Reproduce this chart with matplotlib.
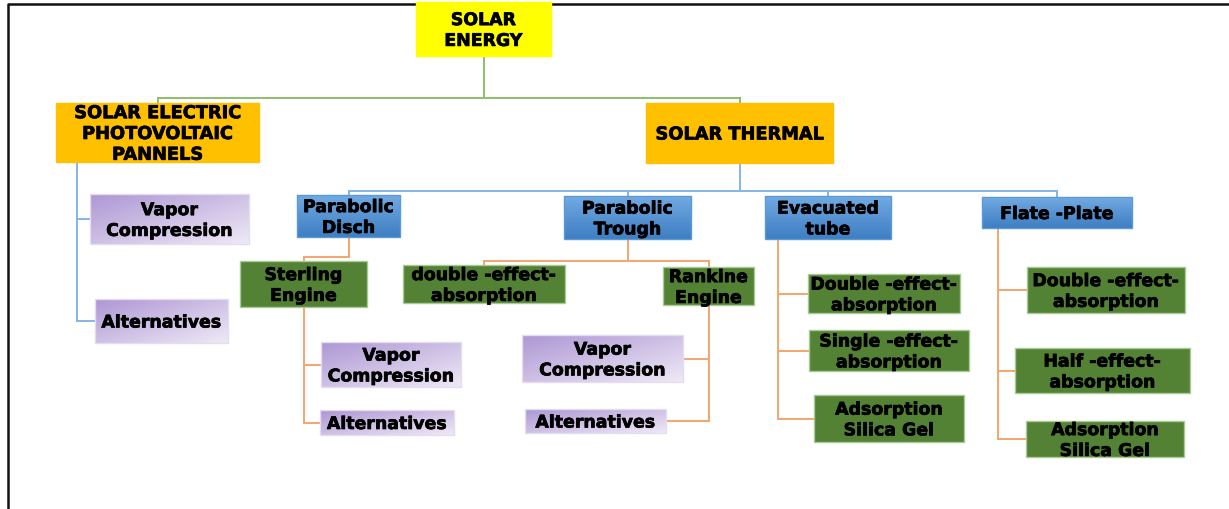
import matplotlib

matplotlib.use("Agg")
import matplotlib.pyplot as plt
import matplotlib.patheffects as pe
import numpy as np
from matplotlib.colors import LinearSegmentedColormap
from matplotlib.patches import Rectangle

# labels of the tree, level by level
root_label = "SOLAR\nENERGY"
main_labels = ["SOLAR ELECTRIC\nPHOTOVOLTAIC\nPANNELS", "SOLAR THERMAL"]
pv_labels = ["Vapor\nCompression", "Alternatives"]
thermal_labels = ["Parabolic\nDisch", "Parabolic\nTrough", "Evacuated\ntube", "Flate -Plate"]
disch_labels = ["Sterling\nEngine"]
sterling_labels = ["Vapor\nCompression", "Alternatives"]
trough_labels = ["double -effect-\nabsorption", "Rankine\nEngine"]
rankine_labels = ["Vapor\nCompression", "Alternatives"]
evacuated_labels = ["Double -effect-\nabsorption", "Single -effect-\nabsorption", "Adsorption\nSilica Gel"]
flat_plate_labels = ["Double -effect-\nabsorption", "Half -effect-\nabsorption", "Adsorption\nSilica Gel"]

# layout in pixels (x0, y0, x1, y1), y downwards
LAYOUT = {
    "root": [(416, 3, 551, 57)],
    "main": [(56, 104, 259, 163), (646, 104, 833, 164)],
    "pv": [(90, 195, 249, 245), (95, 300, 228, 344)],
    "thermal": [(297, 196, 400, 238), (564, 197, 691, 240), (765, 197, 891, 240), (982, 198, 1132, 229)],
    "disch": [(240, 262, 367, 308)],
    "sterling": [(321, 343, 461, 388), (320, 411, 454, 436)],
    "trough": [(403, 266, 565, 304), (663, 268, 754, 306)],
    "rankine": [(522, 336, 683, 383), (525, 410, 666, 434)],
    "evacuated": [(808, 275, 960, 314), (809, 331, 969, 372), (814, 396, 964, 443)],
    "flat": [(1027, 268, 1185, 314), (1015, 349, 1190, 394), (1026, 422, 1184, 458)],
}

GREEN_LINE = "#8DBE69"
BLUE_LINE = "#86B6E3"
ORANGE_LINE = "#F3A56E"
LW = 1.4

purple_cmap = LinearSegmentedColormap.from_list("purple", ["#AE97D4", "#EEE9F6"])
blue_cmap = LinearSegmentedColormap.from_list("blue", ["#72AAE2", "#3E7EC3"])

fig = plt.figure(figsize=(12.29, 5.10), dpi=100)
ax = fig.add_axes([0, 0, 1, 1])
ax.set_xlim(0, 1229)
ax.set_ylim(510, 0)
ax.axis("off")

# frame
ax.plot([8, 8, 1229], [510, 5, 5], color="#111111", lw=1.8, zorder=1, solid_capstyle="butt")


def cx(b):
    return (b[0] + b[2]) / 2


def cy(b):
    return (b[1] + b[3]) / 2


def box_text(b, label, size=12.5):
    ax.text(cx(b), cy(b) + 1.5, label, ha="center", va="center", fontsize=size,
            fontweight="bold", family="DejaVu Sans", color="black",
            linespacing=1.2, zorder=5,
            path_effects=[pe.withStroke(linewidth=0.5, foreground="black")])


def solid_box(b, label, face, edge=None, size=12.5):
    ax.add_patch(Rectangle((b[0], b[1]), b[2] - b[0], b[3] - b[1], facecolor=face,
                           edgecolor=edge or face, lw=1, zorder=3))
    box_text(b, label, size)


def gradient_box(b, label, cmap, kind, edge):
    if kind == "vertical":
        grad = np.linspace(0, 1, 64)[:, None] * np.ones((1, 64))
    else:
        xx, yy = np.meshgrid(np.linspace(0, 1, 64), np.linspace(0, 1, 64))
        grad = (xx + yy) / 2
    ax.imshow(grad, cmap=cmap, extent=(b[0], b[2], b[3], b[1]), origin="upper",
              aspect="auto", zorder=3, interpolation="bilinear")
    ax.add_patch(Rectangle((b[0], b[1]), b[2] - b[0], b[3] - b[1], facecolor="none",
                           edgecolor=edge, lw=1, zorder=4))
    box_text(b, label)


def bus(parent, children, y_bus, color):
    # parent bottom centre -> bus -> each child top centre
    xs = [cx(c) for c in children] + [cx(parent)]
    ax.plot([cx(parent), cx(parent)], [parent[3], y_bus], color=color, lw=LW, zorder=2)
    ax.plot([min(xs), max(xs)], [y_bus, y_bus], color=color, lw=LW, zorder=2)
    for c in children:
        ax.plot([cx(c), cx(c)], [y_bus, c[1]], color=color, lw=LW, zorder=2)


def trunk(parent, children, x_trunk, color):
    # vertical trunk from parent bottom, side branches to children
    ys = [cy(c) for c in children]
    ax.plot([x_trunk, x_trunk], [parent[3], max(ys)], color=color, lw=LW, zorder=2)
    for c in children:
        x_end = c[2] if cx(c) < x_trunk else c[0]
        ax.plot([x_trunk, x_end], [cy(c), cy(c)], color=color, lw=LW, zorder=2)


L = LAYOUT
root = L["root"][0]
pv_box, thermal_box = L["main"]
disch_box, trough_box, evac_box, flat_box = L["thermal"]
sterling_box = L["disch"][0]
double_box, rankine_box = L["trough"]

# connectors
bus(root, L["main"], 99, GREEN_LINE)
trunk(pv_box, L["pv"], 77, BLUE_LINE)
bus(thermal_box, L["thermal"], 192, BLUE_LINE)
bus(disch_box, L["disch"], 258, ORANGE_LINE)
trunk(sterling_box, L["sterling"], cx(sterling_box), ORANGE_LINE)
bus(trough_box, L["trough"], 262, ORANGE_LINE)
trunk(rankine_box, L["rankine"], cx(rankine_box), ORANGE_LINE)
trunk(evac_box, L["evacuated"], 778, ORANGE_LINE)
trunk(flat_box, L["flat"], 998, ORANGE_LINE)

# boxes
solid_box(root, root_label, "#FFFF00")
for b, lab in zip(L["main"], main_labels):
    solid_box(b, lab, "#FFC000", size=12.8)
for b, lab in zip(L["thermal"], thermal_labels):
    gradient_box(b, lab, blue_cmap, "vertical", "#5B9BD5")
for key, labels in [("pv", pv_labels), ("sterling", sterling_labels), ("rankine", rankine_labels)]:
    for b, lab in zip(L[key], labels):
        gradient_box(b, lab, purple_cmap, "diagonal", "#E4DDF0")
for key, labels in [("disch", disch_labels), ("trough", trough_labels),
                    ("evacuated", evacuated_labels), ("flat", flat_plate_labels)]:
    for b, lab in zip(L[key], labels):
        solid_box(b, lab, "#548235", edge="#A9C995")

fig.savefig("out.png", dpi=100)
